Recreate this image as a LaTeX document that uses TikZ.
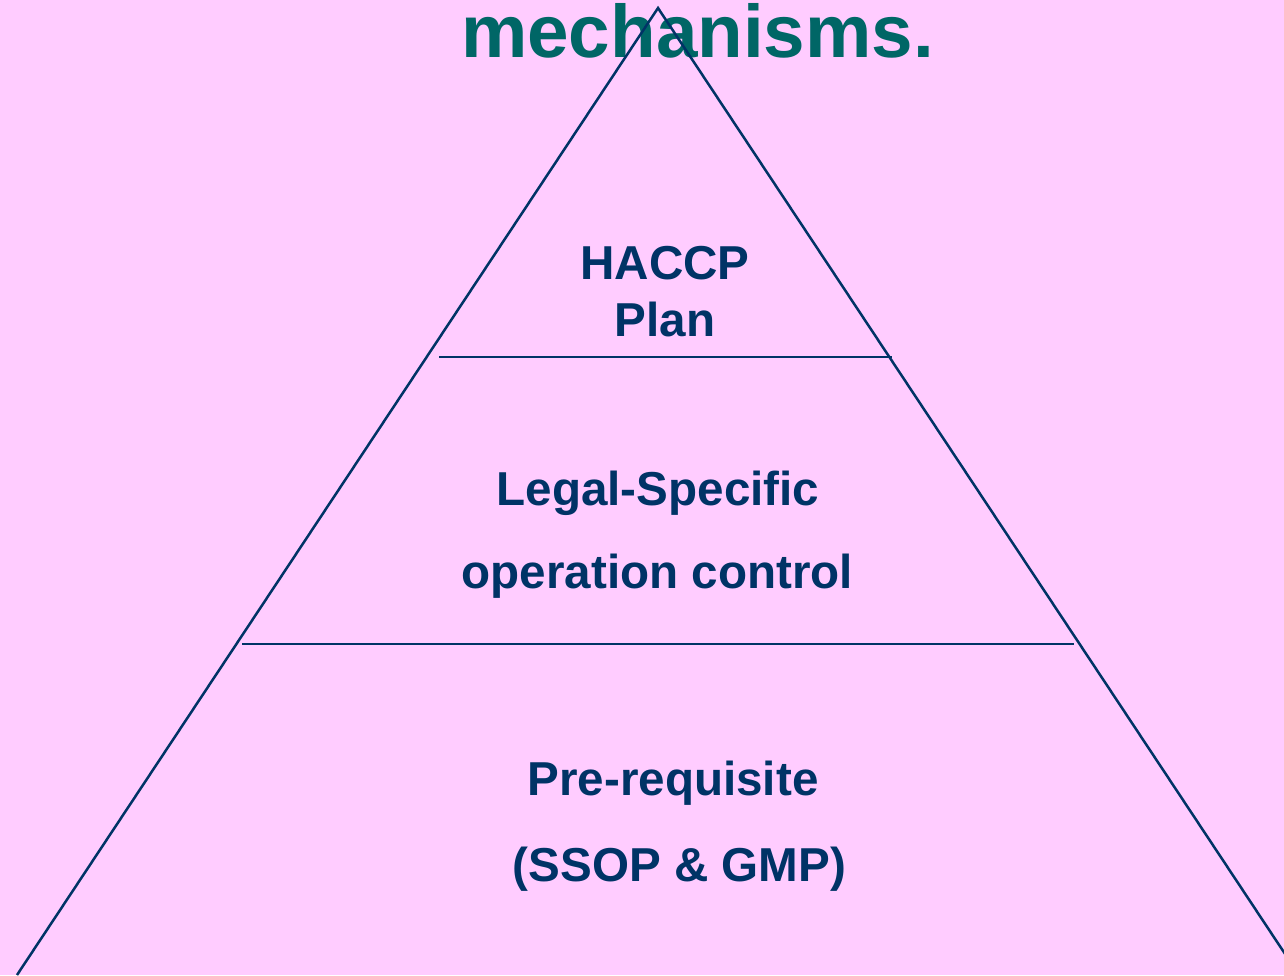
\documentclass[tikz,border=0pt]{standalone}
\usepackage{fontspec}
\setmainfont{Liberation Sans}
\definecolor{bgpink}{HTML}{FFCCFF}
\definecolor{navy}{HTML}{003366}
\definecolor{teal}{HTML}{006666}
\begin{document}
\begin{tikzpicture}[x=1pt,y=-1pt,
  edge/.style={draw=navy,line width=2.5pt},
  label/.style={text=navy,font=\fontsize{47.6}{56}\selectfont\bfseries,inner sep=0pt,anchor=base},
  titletext/.style={text=teal,font=\fontsize{74.6}{80}\selectfont\bfseries,inner sep=0pt,anchor=base}]
\useasboundingbox (0,0) rectangle (1284,975);
\fill[bgpink] (0,0) rectangle (1284,975);
\clip (0,0) rectangle (1284,975);
\node[titletext] (title) at (697.5,57) {mechanisms.};
\coordinate (apex) at (658,8);
\coordinate (bl) at (17,975);
\coordinate (br) at (1299,975);
\draw[edge] (bl) -- (apex) -- (br);
\coordinate (l1a) at (439,357);
\coordinate (l1b) at (892,357);
\coordinate (l2a) at (242,644);
\coordinate (l2b) at (1074,644);
\draw[edge] (l1a) -- (l1b);
\draw[edge] (l2a) -- (l2b);
\node[label] (haccp) at (665,279) {HACCP};
\node[label] (plan) at (665,336) {Plan};
\node[label] (legal) at (658,505) {Legal-Specific};
\node[label] (oper) at (657.5,588) {operation control};
\node[label] (pre) at (673,795) {Pre-requisite};
\node[label] (ssop) at (679.5,881) {(SSOP \& GMP)};
\end{tikzpicture}
\end{document}
